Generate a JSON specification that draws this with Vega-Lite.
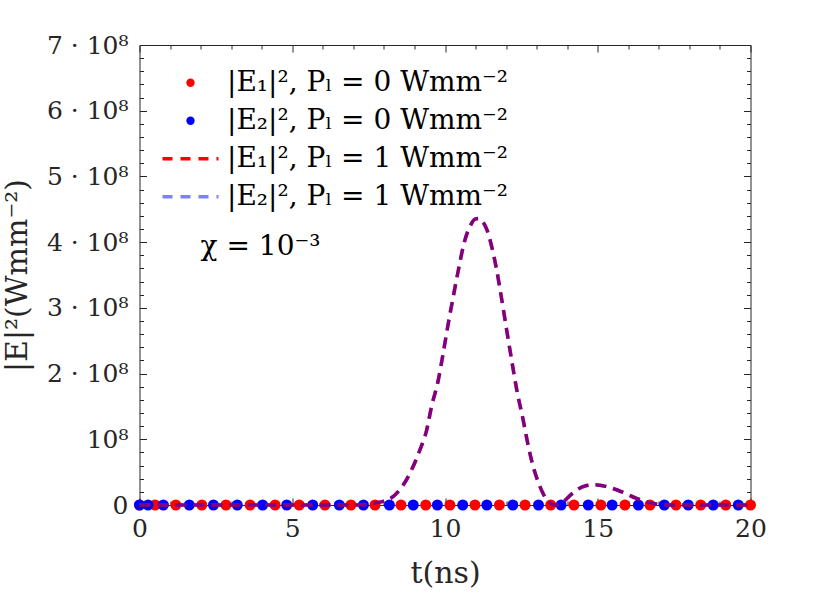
{
  "$schema": "https://vega.github.io/schema/vega-lite/v6.json",
  "width": 611,
  "height": 460,
  "autosize": "none",
  "padding": {"left": 139.5, "top": 45, "right": 79.5, "bottom": 93},
  "background": "white",
  "config": {
    "view": {"stroke": null},
    "font": "DejaVu Serif",
    "axis": {
      "grid": false,
      "domainColor": "#262626",
      "domainWidth": 1,
      "tickColor": "#262626",
      "tickWidth": 1,
      "labelColor": "#262626",
      "titleColor": "#262626",
      "labelFont": "DejaVu Serif",
      "titleFont": "DejaVu Serif",
      "labelFontSize": 25,
      "titleFontSize": 30,
      "titleFontWeight": "normal"
    }
  },
  "datasets": {
    "markers": [
      {"t": 0, "value": 0, "series": "E1_0"},
      {"t": 0.51, "value": 0, "series": "E1_0"},
      {"t": 1.19, "value": 0, "series": "E1_0"},
      {"t": 2.04, "value": 0, "series": "E1_0"},
      {"t": 2.83, "value": 0, "series": "E1_0"},
      {"t": 3.62, "value": 0, "series": "E1_0"},
      {"t": 4.44, "value": 0, "series": "E1_0"},
      {"t": 5.23, "value": 0, "series": "E1_0"},
      {"t": 6.07, "value": 0, "series": "E1_0"},
      {"t": 6.92, "value": 0, "series": "E1_0"},
      {"t": 7.71, "value": 0, "series": "E1_0"},
      {"t": 8.56, "value": 0, "series": "E1_0"},
      {"t": 9.37, "value": 0, "series": "E1_0"},
      {"t": 10.16, "value": 0, "series": "E1_0"},
      {"t": 10.98, "value": 0, "series": "E1_0"},
      {"t": 11.78, "value": 0, "series": "E1_0"},
      {"t": 12.62, "value": 0, "series": "E1_0"},
      {"t": 13.46, "value": 0, "series": "E1_0"},
      {"t": 14.22, "value": 0, "series": "E1_0"},
      {"t": 15.1, "value": 0, "series": "E1_0"},
      {"t": 15.89, "value": 0, "series": "E1_0"},
      {"t": 16.71, "value": 0, "series": "E1_0"},
      {"t": 17.56, "value": 0, "series": "E1_0"},
      {"t": 18.37, "value": 0, "series": "E1_0"},
      {"t": 19.19, "value": 0, "series": "E1_0"},
      {"t": 20, "value": 0, "series": "E1_0"},
      {"t": 0, "value": 0, "series": "E2_0"},
      {"t": 0.28, "value": 0, "series": "E2_0"},
      {"t": 0.78, "value": 0, "series": "E2_0"},
      {"t": 1.63, "value": 0, "series": "E2_0"},
      {"t": 2.42, "value": 0, "series": "E2_0"},
      {"t": 3.2, "value": 0, "series": "E2_0"},
      {"t": 4.03, "value": 0, "series": "E2_0"},
      {"t": 4.82, "value": 0, "series": "E2_0"},
      {"t": 5.67, "value": 0, "series": "E2_0"},
      {"t": 6.54, "value": 0, "series": "E2_0"},
      {"t": 7.33, "value": 0, "series": "E2_0"},
      {"t": 8.18, "value": 0, "series": "E2_0"},
      {"t": 8.96, "value": 0, "series": "E2_0"},
      {"t": 9.75, "value": 0, "series": "E2_0"},
      {"t": 10.58, "value": 0, "series": "E2_0"},
      {"t": 11.37, "value": 0, "series": "E2_0"},
      {"t": 12.22, "value": 0, "series": "E2_0"},
      {"t": 13.06, "value": 0, "series": "E2_0"},
      {"t": 13.8, "value": 0, "series": "E2_0"},
      {"t": 14.69, "value": 0, "series": "E2_0"},
      {"t": 15.47, "value": 0, "series": "E2_0"},
      {"t": 16.33, "value": 0, "series": "E2_0"},
      {"t": 17.18, "value": 0, "series": "E2_0"},
      {"t": 17.96, "value": 0, "series": "E2_0"},
      {"t": 18.78, "value": 0, "series": "E2_0"},
      {"t": 19.6, "value": 0, "series": "E2_0"}
    ],
    "curve": [
      {"t": 0, "value": 0},
      {"t": 2, "value": 0},
      {"t": 4, "value": 0},
      {"t": 6, "value": 0},
      {"t": 7, "value": 0},
      {"t": 7.5, "value": 1000000},
      {"t": 7.71, "value": 3000000},
      {"t": 8, "value": 6000000},
      {"t": 8.25, "value": 11000000},
      {"t": 8.58, "value": 27000000},
      {"t": 8.85, "value": 48000000},
      {"t": 9.18, "value": 84000000},
      {"t": 9.4, "value": 114000000},
      {"t": 9.56, "value": 150000000},
      {"t": 9.78, "value": 190000000},
      {"t": 9.94, "value": 231000000},
      {"t": 10.11, "value": 277000000},
      {"t": 10.27, "value": 317000000},
      {"t": 10.44, "value": 358000000},
      {"t": 10.65, "value": 403000000},
      {"t": 10.82, "value": 424000000},
      {"t": 10.98, "value": 435000000},
      {"t": 11.1, "value": 436000000},
      {"t": 11.2, "value": 433000000},
      {"t": 11.37, "value": 419000000},
      {"t": 11.53, "value": 393000000},
      {"t": 11.69, "value": 358000000},
      {"t": 11.86, "value": 312000000},
      {"t": 12.02, "value": 266000000},
      {"t": 12.18, "value": 221000000},
      {"t": 12.35, "value": 175000000},
      {"t": 12.56, "value": 129000000},
      {"t": 12.73, "value": 89000000},
      {"t": 12.89, "value": 58000000},
      {"t": 13.11, "value": 28000000},
      {"t": 13.33, "value": 8000000},
      {"t": 13.6, "value": 0},
      {"t": 13.87, "value": 5000000},
      {"t": 14.2, "value": 19000000},
      {"t": 14.58, "value": 29000000},
      {"t": 14.91, "value": 31000000},
      {"t": 15.29, "value": 28000000},
      {"t": 15.84, "value": 19000000},
      {"t": 16.27, "value": 10000000},
      {"t": 16.71, "value": 3500000},
      {"t": 17.26, "value": 0},
      {"t": 18, "value": 0},
      {"t": 19, "value": 0},
      {"t": 20, "value": 0}
    ],
    "notes": [
      {"t": 2.0, "value": 392000000, "label": "χ = 10⁻³"}
    ]
  },
  "layer": [
    {
      "data": {"name": "markers"},
      "mark": {"type": "point", "shape": "circle", "filled": true, "size": 121, "opacity": 1},
      "encoding": {
        "x": {
          "field": "t",
          "type": "quantitative",
          "scale": {"domain": [0, 20], "nice": false, "zero": false},
          "axis": {
            "orient": "bottom",
            "title": "t(ns)",
            "values": [0, 1, 2, 3, 4, 5, 6, 7, 8, 9, 10, 11, 12, 13, 14, 15, 16, 17, 18, 19, 20],
            "labelExpr": "datum.value % 5 === 0 ? datum.label : ''",
            "tickSize": {"expr": "datum.value % 5 === 0 ? -7 : -4"},
            "labelPadding": 18,
            "labelFlush": false,
            "labelOverlap": false,
            "titlePadding": 14
          }
        },
        "y": {
          "field": "value",
          "type": "quantitative",
          "scale": {"domain": [0, 700000000], "nice": false},
          "axis": {
            "orient": "left",
            "title": "|E|²(Wmm⁻²)",
            "values": [0, 20000000, 40000000, 60000000, 80000000, 100000000, 120000000, 140000000, 160000000, 180000000, 200000000, 220000000, 240000000, 260000000, 280000000, 300000000, 320000000, 340000000, 360000000, 380000000, 400000000, 420000000, 440000000, 460000000, 480000000, 500000000, 520000000, 540000000, 560000000, 580000000, 600000000, 620000000, 640000000, 660000000, 680000000, 700000000],
            "labelExpr": "datum.value % 100000000 !== 0 ? '' : datum.value === 0 ? '0' : datum.value === 100000000 ? '10⁸' : (datum.value / 100000000) + ' · 10⁸'",
            "tickSize": {"expr": "datum.value % 100000000 === 0 ? -7 : -4"},
            "labelPadding": 18.5,
            "labelFlush": false,
            "labelOverlap": false,
            "titlePadding": 14
          }
        },
        "color": {
          "field": "series",
          "type": "nominal",
          "scale": {"domain": ["E1_0", "E2_0", "E1_1", "E2_1"], "range": ["#ff0000", "#0000ff", "#ff0000", "rgba(0, 0, 255, 0.5)"]},
          "legend": {
            "title": null,
            "orient": "none",
            "legendX": 21,
            "legendY": 18.7,
            "padding": 0,
            "rowPadding": 0,
            "clipHeight": 38,
            "labelFont": "DejaVu Serif",
            "labelFontSize": 28,
            "labelColor": "#000000",
            "symbolOffset": 16,
            "labelOffset": 22.5,
            "labelLimit": 0,
            "labelExpr": "datum.value === 'E1_0' ? '|E₁|², Pₗ = 0 Wmm⁻²' : datum.value === 'E2_0' ? '|E₂|², Pₗ = 0 Wmm⁻²' : datum.value === 'E1_1' ? '|E₁|², Pₗ = 1 Wmm⁻²' : '|E₂|², Pₗ = 1 Wmm⁻²'",
            "symbolType": {"expr": "datum.index < 2 ? 'circle' : 'stroke'"},
            "symbolSize": {"expr": "datum.index < 2 ? 70 : 3136"},
            "symbolStrokeWidth": {"expr": "datum.index < 2 ? 0 : 3.5"},
            "symbolDash": {"expr": "datum.index < 2 ? [1, 0] : [10, 8]"},
            "symbolOpacity": 1
          }
        }
      }
    },
    {
      "data": {"name": "curve"},
      "mark": {"type": "line", "strokeWidth": 3.5, "strokeDash": [11, 7], "interpolate": "monotone"},
      "encoding": {
        "x": {
          "field": "t",
          "type": "quantitative",
          "axis": {
            "orient": "top",
            "title": null,
            "labels": false,
            "values": [0, 1, 2, 3, 4, 5, 6, 7, 8, 9, 10, 11, 12, 13, 14, 15, 16, 17, 18, 19, 20],
            "tickSize": {"expr": "datum.value % 5 === 0 ? -7 : -4"}
          }
        },
        "y": {
          "field": "value",
          "type": "quantitative",
          "axis": {
            "orient": "right",
            "title": null,
            "labels": false,
            "values": [0, 20000000, 40000000, 60000000, 80000000, 100000000, 120000000, 140000000, 160000000, 180000000, 200000000, 220000000, 240000000, 260000000, 280000000, 300000000, 320000000, 340000000, 360000000, 380000000, 400000000, 420000000, 440000000, 460000000, 480000000, 500000000, 520000000, 540000000, 560000000, 580000000, 600000000, 620000000, 640000000, 660000000, 680000000, 700000000],
            "tickSize": {"expr": "datum.value % 100000000 === 0 ? -7 : -4"}
          }
        },
        "color": {"datum": "E1_1", "type": "nominal"}
      }
    },
    {
      "data": {"name": "curve"},
      "mark": {"type": "line", "strokeWidth": 3.5, "strokeDash": [11, 7], "interpolate": "monotone"},
      "encoding": {
        "x": {"field": "t", "type": "quantitative", "axis": null},
        "y": {"field": "value", "type": "quantitative", "axis": null},
        "color": {"datum": "E2_1", "type": "nominal"}
      }
    },
    {
      "data": {"name": "notes"},
      "mark": {"type": "text", "align": "left", "baseline": "middle", "font": "DejaVu Serif", "fontSize": 28, "color": "#000000"},
      "encoding": {
        "x": {"field": "t", "type": "quantitative", "axis": null},
        "y": {"field": "value", "type": "quantitative", "axis": null},
        "text": {"field": "label"}
      }
    }
  ]
}
